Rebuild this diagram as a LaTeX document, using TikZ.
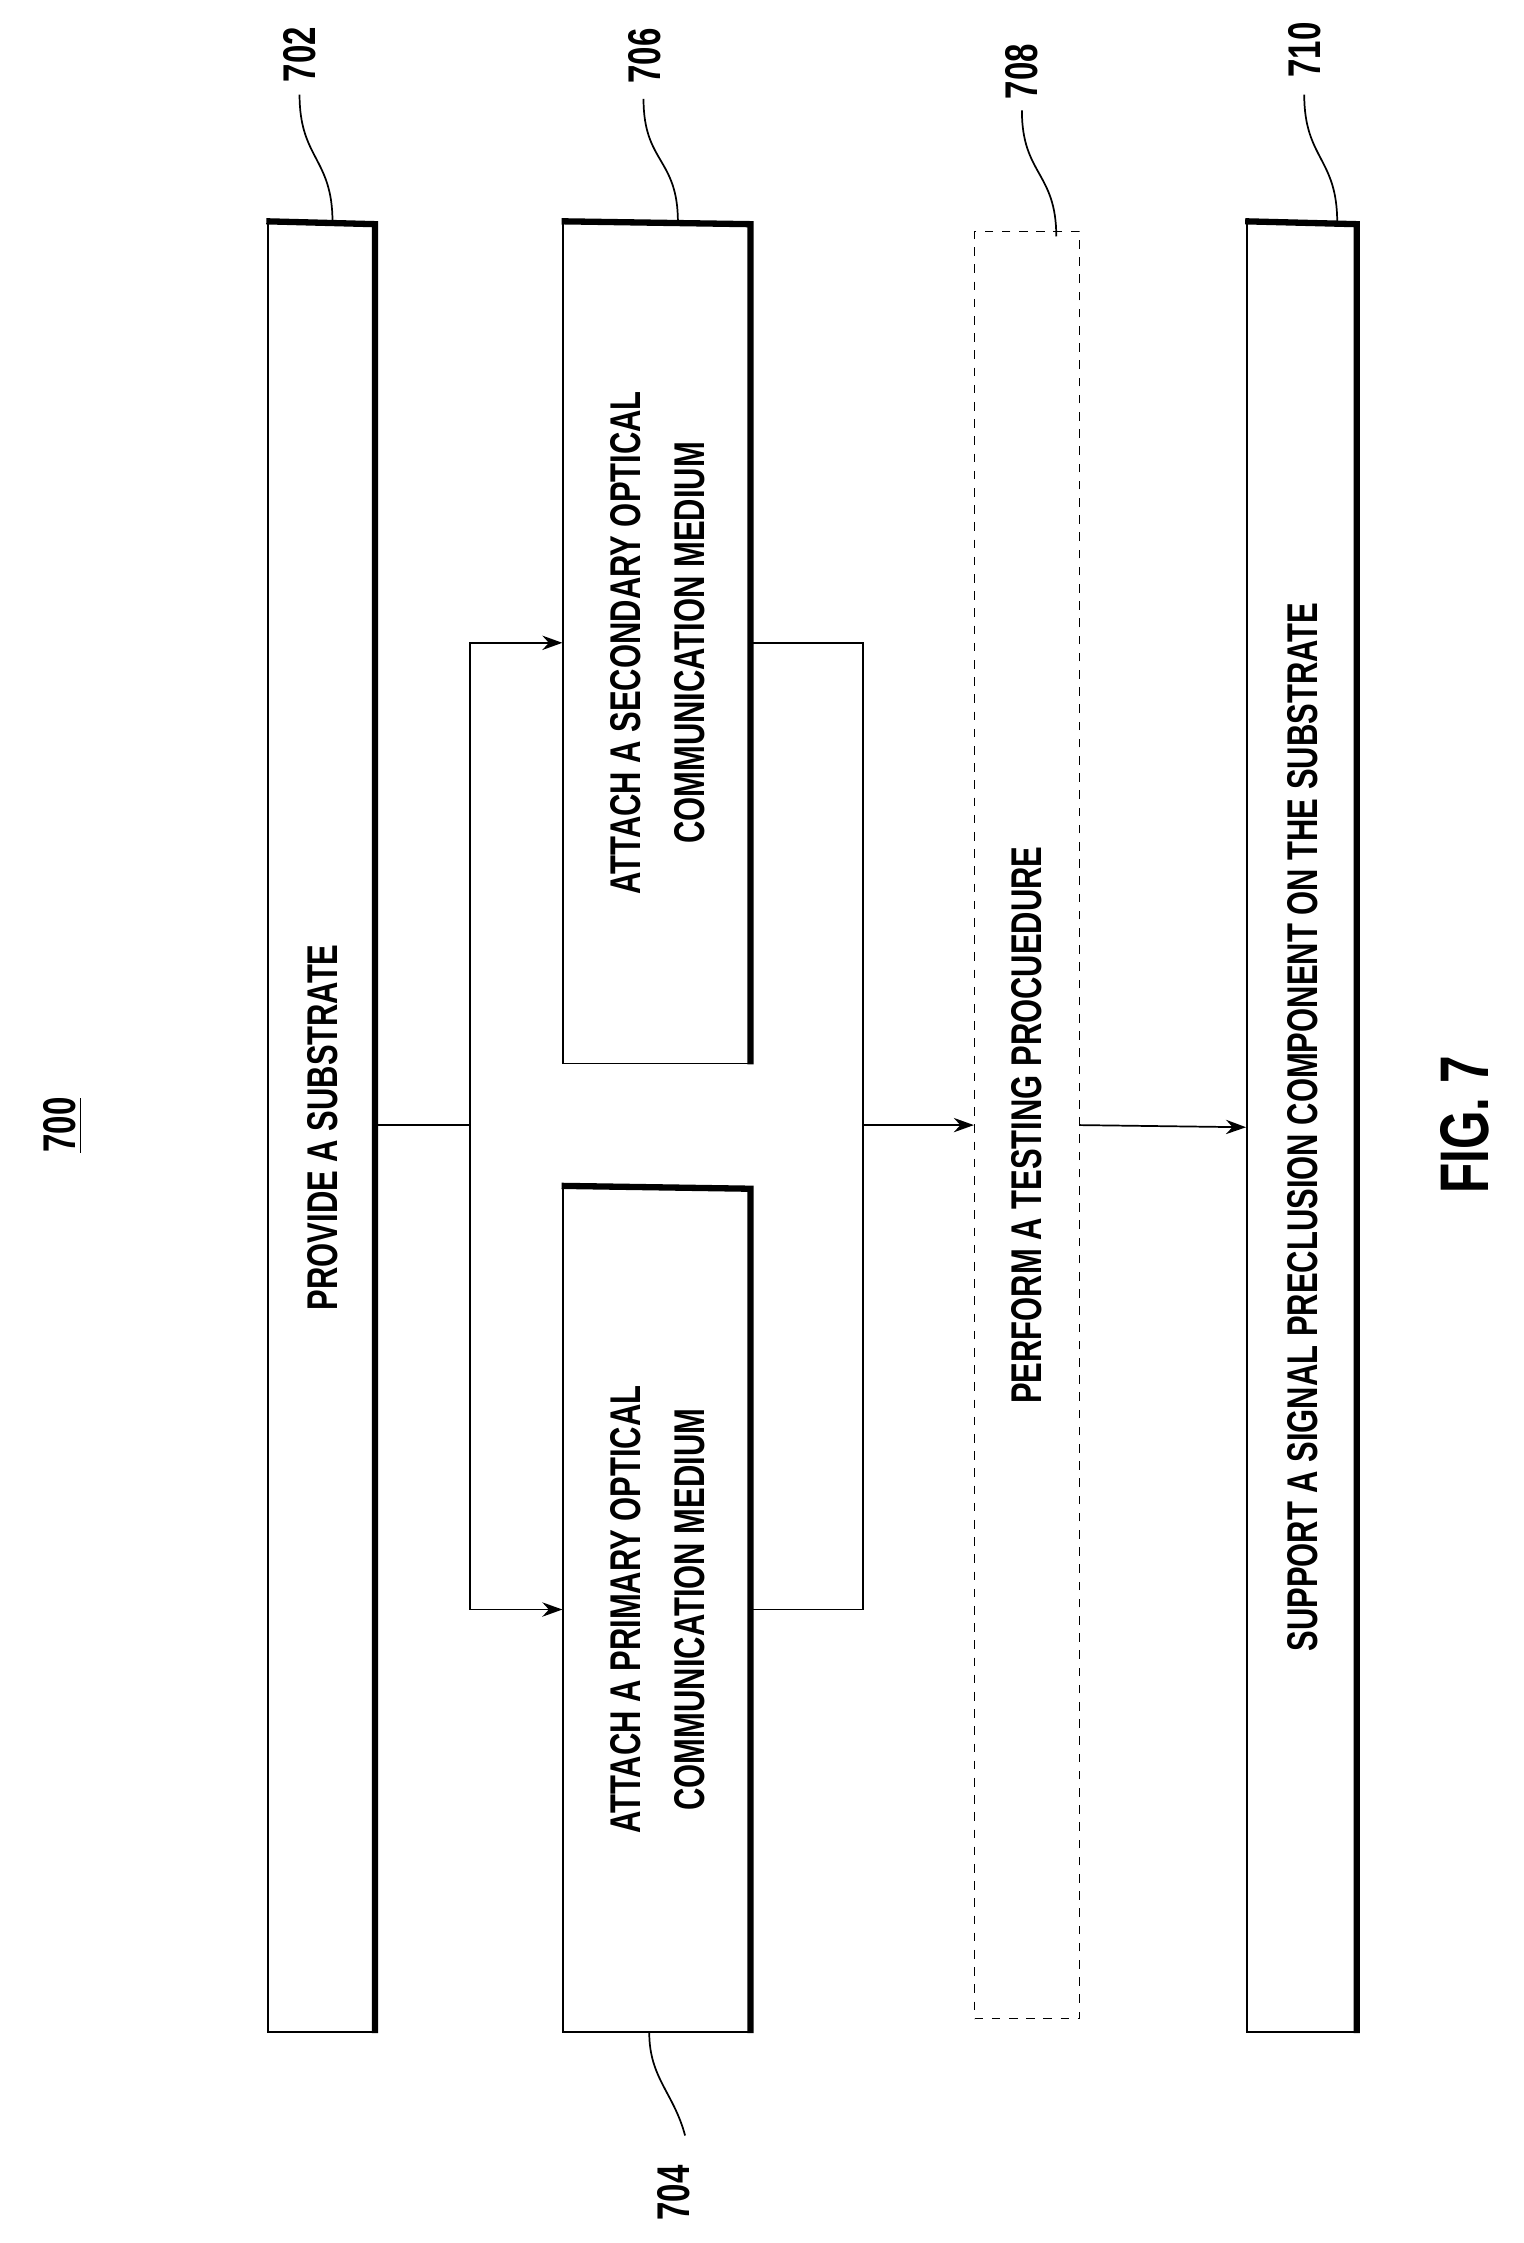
\documentclass[tikz,border=0pt]{standalone}
\usepackage{fontspec}
\setmainfont{Liberation Sans}[FakeStretch=0.72]
\usetikzlibrary{arrows.meta,calc}
\begin{document}
\begin{tikzpicture}[x=0.5pt,y=-0.5pt,
  box/.style={draw,line width=0.6pt,inner sep=0pt},
  dbox/.style={draw,dashed,line width=0.5pt,inner sep=0pt},
  txt/.style={rotate=90,font=\bfseries\fontsize{15}{22.5}\selectfont,align=center},
  lbl/.style={rotate=90,font=\bfseries\fontsize{16}{18}\selectfont},
  lead/.style={line width=0.6pt},
  arr/.style={line width=0.6pt,-{Stealth[length=7pt,width=5pt]}},
  ln/.style={line width=0.6pt}]
\useasboundingbox (0,0) rectangle (1063,1565);
\node[box,minimum width=38pt,minimum height=631.5pt] (p702) at (225,786.5) {};
\node[box,minimum width=66pt,minimum height=295pt] (p704) at (459,1123) {};
\node[box,minimum width=66pt,minimum height=293.5pt] (p706) at (459,448.5) {};
\node[dbox,minimum width=36.5pt,minimum height=623.5pt] (p708) at (716.5,785) {};
\node[box,minimum width=39pt,minimum height=631.5pt] (p710) at (909,786.5) {};
\foreach \b in {p702,p704,p706,p710}
  \draw[line width=2.2pt] ([xshift=-0.3pt]\b.north west) -- ([xshift=-1pt,yshift=-1pt]\b.north east) -- ([xshift=-1pt]\b.south east);
\node[txt] (t702) at (p702) {PROVIDE A SUBSTRATE};
\node[txt] (t704) at (p704) {ATTACH A PRIMARY OPTICAL\\COMMUNICATION MEDIUM};
\node[txt] (t706) at (p706) {ATTACH A SECONDARY OPTICAL\\COMMUNICATION MEDIUM};
\node[txt] (t708) at (p708) {PERFORM A TESTING PROCUEDURE};
\node[txt] (t710) at (p710) {SUPPORT A SIGNAL PRECLUSION COMPONENT ON THE SUBSTRATE};
\node[lbl] (l700) at (44,785) {\underline{700}};
\node[rotate=90,font=\bfseries\fontsize{24}{26}\selectfont] (fig) at (1022,785) {FIG. 7};
% reference labels
\node[lbl] (l702) at (209,38) {702};
\node[lbl] (l706) at (450,39) {706};
\node[lbl] (l708) at (713,50) {708};
\node[lbl] (l710) at (910,35) {710};
\node[lbl] (l704) at (470,1530) {704};
\coordinate (a702) at (209,66); \coordinate (b702) at (232,155);
\coordinate (a706) at (449,69); \coordinate (b706) at (473,155);
\coordinate (a708) at (713,77); \coordinate (b708) at (737,165);
\coordinate (a710) at (910,66); \coordinate (b710) at (933,155);
\coordinate (a704) at (478,1490); \coordinate (b704) at (453,1418);
\foreach \n in {702,706,708,710}
  \draw[lead] (a\n) .. controls ($(a\n)+(0,45)$) and ($(b\n)+(0,-45)$) .. (b\n);
\draw[lead] (b704) .. controls (453,1450) and (470,1460) .. (a704);
% connectors
\coordinate (j1) at (328,785);
\coordinate (j2) at (602,785);
\draw[ln] (p702.east |- j1) -- (j1);
\draw[arr] (j1) |- (p706.west);
\draw[arr] (j1) |- (p704.west);
\draw[ln] (p706.east) -| (j2);
\draw[ln] (p704.east) -| (j2);
\draw[arr] (j2) -- (p708.west);
\draw[arr] (p708.east) -- (p710.west);
\end{tikzpicture}
\end{document}
